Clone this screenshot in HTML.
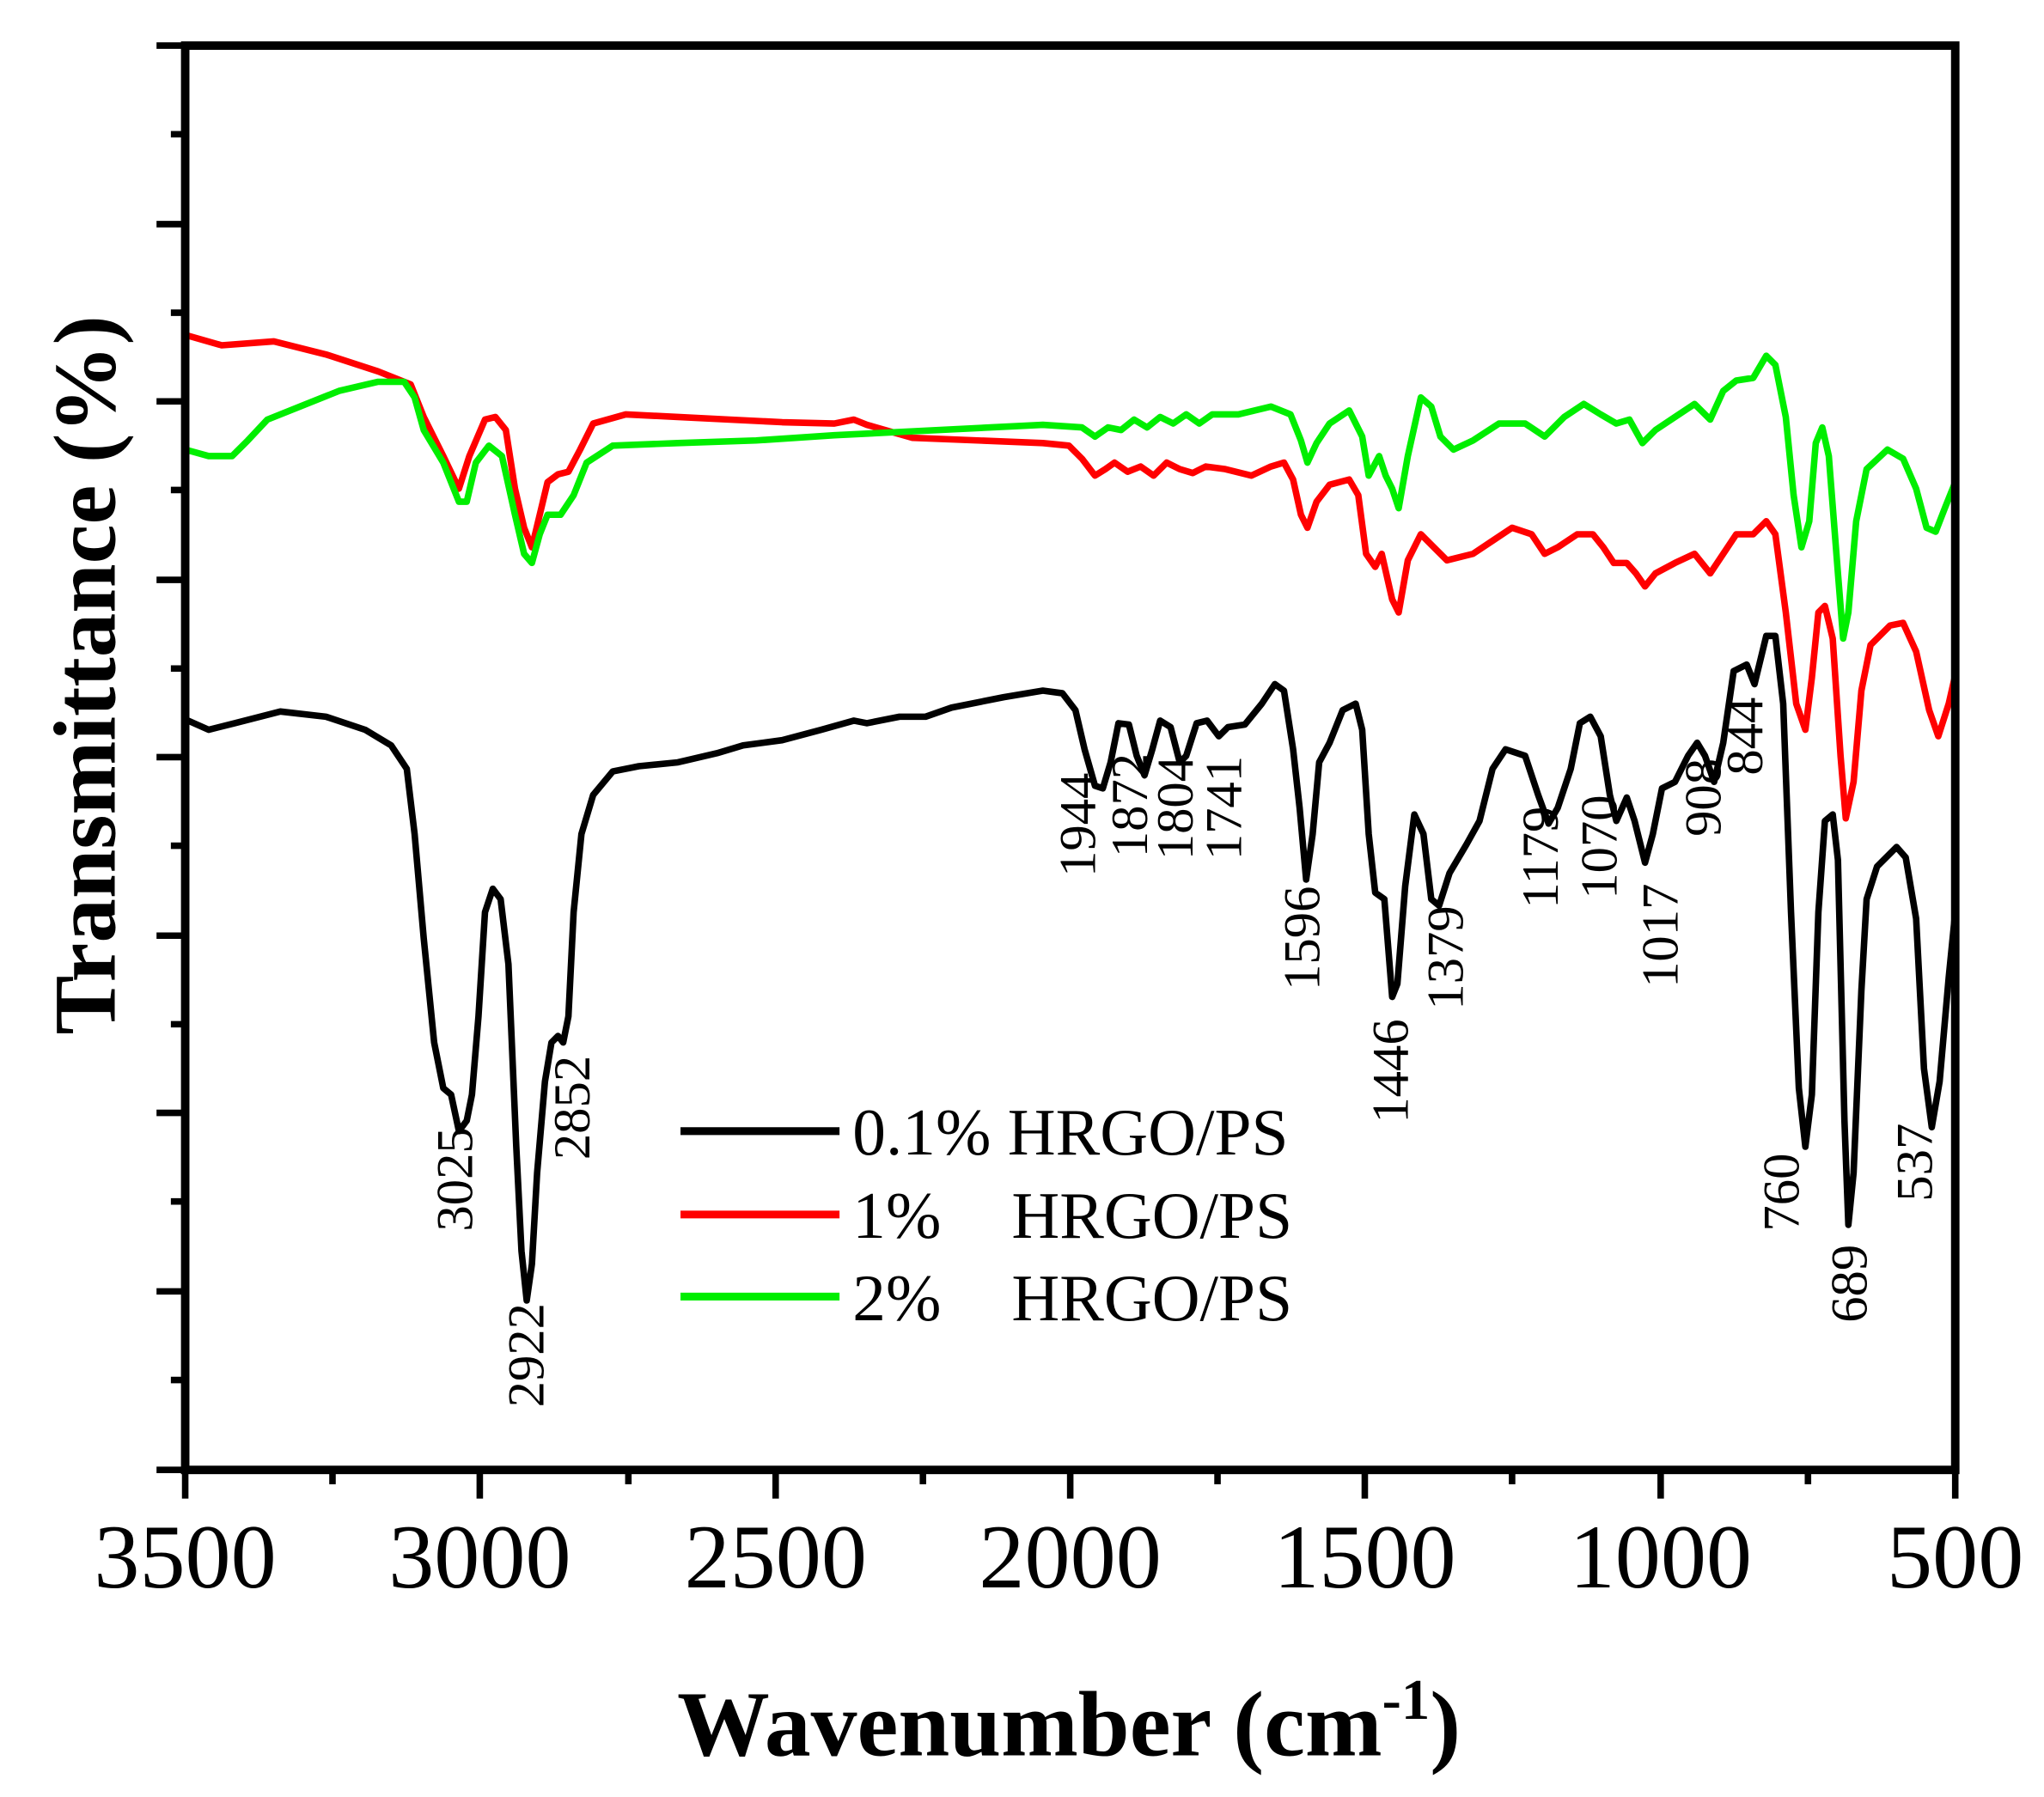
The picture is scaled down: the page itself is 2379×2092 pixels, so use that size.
<!DOCTYPE html>
<html><head><meta charset="utf-8"><style>
html,body{margin:0;padding:0;background:#fff;}
svg{display:block;}
</style></head><body>
<svg width="2379" height="2092" viewBox="0 0 1568 1379" xmlns="http://www.w3.org/2000/svg" font-family="'Liberation Serif', serif">
<rect width="1568" height="1379" fill="#fff"/>
<g fill="none" stroke-width="5" stroke-linejoin="round">
<polyline stroke="#ff0000" points="142,257 170,265 210,262 250,272 290,285 315,295 325,320 340,350 352,375 360,350 372,322 380,320 388,330 395,375 402,405 408,420 414,395 420,370 428,364 436,362 445,345 455,325 480,318 520,320 560,322 600,324 640,325 655,322 665,326 700,336 750,338 800,340 820,342 830,352 840,365 848,360 855,355 865,362 875,358 885,365 895,355 905,360 915,363 925,358 940,360 960,365 975,358 985,355 992,368 998,395 1003,405 1010,385 1020,372 1035,368 1042,380 1048,425 1055,435 1060,425 1068,460 1073,470 1080,430 1090,410 1100,420 1110,430 1130,425 1145,415 1160,405 1175,410 1185,425 1195,420 1210,410 1222,410 1230,420 1238,432 1248,432 1255,440 1262,450 1270,440 1285,432 1300,425 1312,440 1322,425 1332,410 1345,410 1355,400 1362,410 1370,470 1378,540 1385,560 1390,520 1395,470 1400,465 1406,490 1412,580 1416,628 1422,600 1428,530 1435,495 1450,480 1460,478 1470,500 1480,545 1487,565 1495,540 1500,518"/>
<polyline stroke="#00ee00" points="142,345 160,350 178,350 190,338 205,322 230,312 260,300 290,293 310,293 318,305 325,330 340,355 352,385 358,385 365,355 375,342 385,350 395,395 402,425 408,432 414,410 420,395 430,395 440,380 450,355 470,342 520,340 580,338 640,334 700,331 760,328 800,326 830,328 840,335 850,328 860,330 870,322 880,328 890,320 900,325 910,318 920,325 930,318 950,318 975,312 990,318 998,338 1003,355 1010,340 1020,325 1035,315 1045,335 1050,365 1058,350 1063,365 1068,375 1073,390 1080,350 1090,305 1098,312 1105,335 1115,345 1130,338 1150,325 1170,325 1185,335 1200,320 1215,310 1228,318 1240,325 1250,322 1260,340 1270,330 1285,320 1300,310 1312,322 1322,300 1332,292 1345,290 1355,273 1362,280 1370,320 1376,380 1382,420 1388,400 1393,340 1398,328 1403,350 1410,440 1414,490 1418,470 1424,400 1432,360 1448,345 1460,352 1470,375 1478,405 1485,408 1492,390 1500,370"/>
<polyline stroke="#000" points="142,552 160,560 180,555 215,546 250,550 280,560 300,572 312,590 318,640 325,720 333,800 340,835 346,840 352,868 358,860 362,840 367,780 372,700 378,682 384,690 390,740 396,880 400,960 404,998 408,970 412,900 418,830 423,800 428,795 432,800 436,780 440,700 446,640 455,610 470,592 490,588 520,585 550,578 570,572 600,568 630,560 655,553 665,555 690,550 710,550 730,543 770,535 800,530 815,532 825,545 832,575 840,603 846,605 852,585 858,555 866,556 872,580 878,595 884,575 890,553 898,558 905,585 910,580 918,555 926,553 935,565 942,558 955,556 968,540 978,525 985,530 992,575 997,620 1002,675 1007,640 1012,585 1020,570 1030,545 1040,540 1045,560 1050,640 1055,685 1062,690 1068,765 1072,755 1078,680 1085,625 1092,640 1098,690 1104,695 1112,670 1125,648 1135,630 1145,590 1155,575 1170,580 1180,610 1188,632 1195,620 1205,590 1212,555 1220,550 1228,565 1235,610 1240,630 1248,612 1254,630 1262,662 1268,640 1275,605 1285,600 1295,580 1302,570 1308,580 1315,600 1322,570 1330,515 1340,510 1346,525 1355,488 1362,488 1368,540 1374,700 1380,835 1385,880 1390,840 1395,700 1400,630 1406,625 1410,660 1415,860 1418,940 1422,900 1428,760 1432,690 1440,665 1455,650 1462,658 1470,705 1476,820 1482,865 1488,830 1495,750 1500,700"/>
</g>
<rect x="142" y="35" width="1358" height="1093" fill="none" stroke="#000" stroke-width="6.5"/>
<g stroke="#000" stroke-width="5">
<line x1="142" y1="1128" x2="142" y2="1150"/><line x1="255" y1="1128" x2="255" y2="1139"/>
<line x1="368" y1="1128" x2="368" y2="1150"/><line x1="482" y1="1128" x2="482" y2="1139"/>
<line x1="595" y1="1128" x2="595" y2="1150"/><line x1="708" y1="1128" x2="708" y2="1139"/>
<line x1="821" y1="1128" x2="821" y2="1150"/><line x1="934" y1="1128" x2="934" y2="1139"/>
<line x1="1047" y1="1128" x2="1047" y2="1150"/><line x1="1160" y1="1128" x2="1160" y2="1139"/>
<line x1="1274" y1="1128" x2="1274" y2="1150"/><line x1="1387" y1="1128" x2="1387" y2="1139"/>
<line x1="1500" y1="1128" x2="1500" y2="1150"/>
<line x1="120" y1="35" x2="142" y2="35"/><line x1="131" y1="103" x2="142" y2="103"/>
<line x1="120" y1="172" x2="142" y2="172"/><line x1="131" y1="240" x2="142" y2="240"/>
<line x1="120" y1="308" x2="142" y2="308"/><line x1="131" y1="376" x2="142" y2="376"/>
<line x1="120" y1="445" x2="142" y2="445"/><line x1="131" y1="513" x2="142" y2="513"/>
<line x1="120" y1="581" x2="142" y2="581"/><line x1="131" y1="649" x2="142" y2="649"/>
<line x1="120" y1="718" x2="142" y2="718"/><line x1="131" y1="786" x2="142" y2="786"/>
<line x1="120" y1="854" x2="142" y2="854"/><line x1="131" y1="922" x2="142" y2="922"/>
<line x1="120" y1="991" x2="142" y2="991"/><line x1="131" y1="1059" x2="142" y2="1059"/>
<line x1="120" y1="1128" x2="142" y2="1128"/>
</g>
<g font-size="70" text-anchor="middle" fill="#000">
<text x="142" y="1218">3500</text><text x="368" y="1218">3000</text><text x="595" y="1218">2500</text>
<text x="821" y="1218">2000</text><text x="1047" y="1218">1500</text><text x="1274" y="1218">1000</text>
<text x="1500" y="1218">500</text>
</g>
<text x="820" y="1347" font-size="71" font-weight="bold" text-anchor="middle">Wavenumber (cm<tspan dy="-28" font-size="44">-1</tspan><tspan dy="28">)</tspan></text>
<text transform="translate(88,518) rotate(-90)" font-size="68" font-weight="bold" text-anchor="middle">Transmittance (%)</text>
<g font-size="40" text-anchor="middle" fill="#000">
<text transform="translate(362,905) rotate(-90)">3025</text>
<text transform="translate(417,1040) rotate(-90)">2922</text>
<text transform="translate(452,850) rotate(-90)">2852</text>
<text transform="translate(840,633) rotate(-90)">1944</text>
<text transform="translate(880,618) rotate(-90)">1872</text>
<text transform="translate(915,620) rotate(-90)">1804</text>
<text transform="translate(952,620) rotate(-90)">1741</text>
<text transform="translate(1012,720) rotate(-90)">1596</text>
<text transform="translate(1080,822) rotate(-90)">1446</text>
<text transform="translate(1122,735) rotate(-90)">1379</text>
<text transform="translate(1195,658) rotate(-90)">1179</text>
<text transform="translate(1240,650) rotate(-90)">1070</text>
<text transform="translate(1287,718) rotate(-90)">1017</text>
<text transform="translate(1320,612) rotate(-90)">908</text>
<text transform="translate(1352,565) rotate(-90)">844</text>
<text transform="translate(1380,915) rotate(-90)">760</text>
<text transform="translate(1432,985) rotate(-90)">689</text>
<text transform="translate(1482,892) rotate(-90)">537</text>
</g>
<g stroke-width="6">
<line x1="522" y1="868" x2="644" y2="868" stroke="#000"/>
<line x1="522" y1="932" x2="644" y2="932" stroke="#ff0000"/>
<line x1="522" y1="995" x2="644" y2="995" stroke="#00ee00"/>
</g>
<g font-size="51" fill="#000">
<text x="654" y="886">0.1% HRGO/PS</text>
<text x="654" y="950">1%</text><text x="776" y="950">HRGO/PS</text>
<text x="654" y="1013">2%</text><text x="776" y="1013">HRGO/PS</text>
</g>
</svg>
</body></html>
